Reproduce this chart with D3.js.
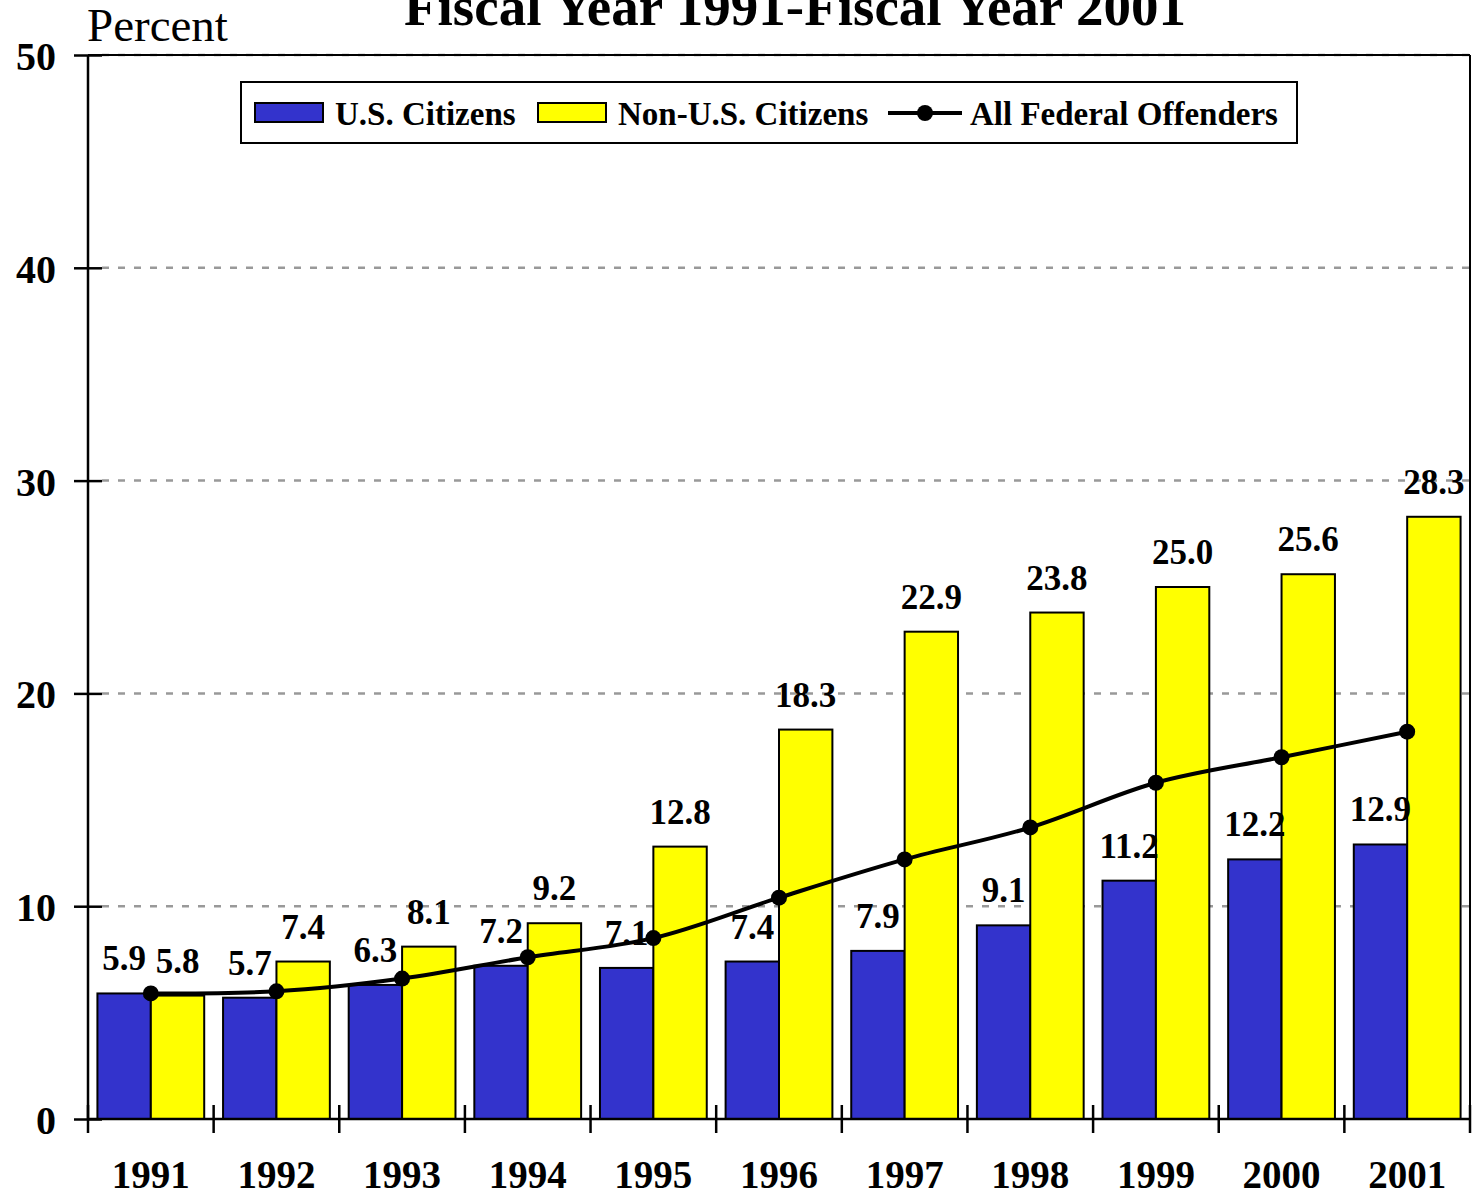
<!DOCTYPE html>
<html><head><meta charset="utf-8">
<script src="https://cdn.jsdelivr.net/npm/d3@7"></script>
<style>body{margin:0;background:#fff}svg{display:block}</style>
</head><body>
<svg id="c" width="1473" height="1197"></svg>
<script>
const years = ["1991","1992","1993","1994","1995","1996","1997","1998","1999","2000","2001"];
const usCitizens = [5.9,5.7,6.3,7.2,7.1,7.4,7.9,9.1,11.2,12.2,12.9];
const nonUsCitizens = [5.8,7.4,8.1,9.2,12.8,18.3,22.9,23.8,25.0,25.6,28.3];
const allOffenders = [5.9,6.0,6.6,7.6,8.5,10.4,12.2,13.7,15.8,17.0,18.2];
const yTicks = [0,10,20,30,40,50];
const seriesNames = ["U.S. Citizens","Non-U.S. Citizens","All Federal Offenders"];
const titleText = "Fiscal Year 1991-Fiscal Year 2001";

const FONT = "'Liberation Serif','Times New Roman',serif";
const BLUE = "#3333CC", YELLOW = "#FFFF00";
const svg = d3.select("#c");
const L = 88, R = 1470, T = 55, B = 1119;

const x = d3.scaleBand().domain(years).range([L, R]).paddingInner(0.15).paddingOuter(0.075);
const y = d3.scaleLinear().domain([0, 50]).range([B, T]);
const step = x.step();
const half = x.bandwidth() / 2;

// gridlines
svg.append("g").selectAll("line").data(yTicks.filter(d => d > 0)).join("line")
  .attr("x1", L + 14).attr("x2", R).attr("y1", d => y(d)).attr("y2", d => y(d))
  .attr("stroke", "#999").attr("stroke-width", 2.5).attr("stroke-dasharray", "7,9");

// frame top and right
svg.append("line").attr("x1", L).attr("x2", R).attr("y1", T).attr("y2", T).attr("stroke", "#000").attr("stroke-width", 2);
svg.append("line").attr("x1", R).attr("x2", R).attr("y1", T).attr("y2", B).attr("stroke", "#000").attr("stroke-width", 2);

// bars
const g = svg.append("g");
g.selectAll("rect.us").data(years).join("rect").attr("class", "us")
  .attr("x", d => x(d)).attr("width", half)
  .attr("y", (d, i) => y(usCitizens[i])).attr("height", (d, i) => B - y(usCitizens[i]))
  .attr("fill", BLUE).attr("stroke", "#000").attr("stroke-width", 2);
g.selectAll("rect.non").data(years).join("rect").attr("class", "non")
  .attr("x", d => x(d) + half).attr("width", half)
  .attr("y", (d, i) => y(nonUsCitizens[i])).attr("height", (d, i) => B - y(nonUsCitizens[i]))
  .attr("fill", YELLOW).attr("stroke", "#000").attr("stroke-width", 2);

// value labels
const lab = svg.append("g").attr("font-family", FONT).attr("font-weight", "bold").attr("font-size", 35).attr("text-anchor", "middle").attr("fill", "#000");
lab.selectAll("text.us").data(years).join("text").attr("class", "us")
  .attr("x", d => x(d) + half / 2).attr("y", (d, i) => y(usCitizens[i]) - 23)
  .text((d, i) => usCitizens[i].toFixed(1));
lab.selectAll("text.non").data(years).join("text").attr("class", "non")
  .attr("x", d => x(d) + half * 1.5).attr("y", (d, i) => y(nonUsCitizens[i]) - 23)
  .text((d, i) => nonUsCitizens[i].toFixed(1));

// line
const line = d3.line().x((d, i) => x(years[i]) + half).y(d => y(d)).curve(d3.curveCatmullRom.alpha(0.5));
svg.append("path").datum(allOffenders).attr("d", line).attr("fill", "none").attr("stroke", "#000").attr("stroke-width", 4);
svg.append("g").selectAll("circle").data(allOffenders).join("circle")
  .attr("cx", (d, i) => x(years[i]) + half).attr("cy", d => y(d)).attr("r", 8).attr("fill", "#000");

// y axis
const ya = svg.append("g").attr("transform", `translate(${L},0)`)
  .call(d3.axisLeft(y).tickValues(yTicks).tickSize(14).tickPadding(18).tickFormat(d3.format("d")));
ya.select(".domain").attr("stroke", "#000").attr("stroke-width", 2.5).attr("d", `M0,${T}V${B}`);
ya.selectAll(".tick line").attr("stroke-width", 2.5).attr("x2", -14).attr("x1", 14);
ya.selectAll(".tick text").attr("font-family", FONT).attr("font-weight", "bold").attr("font-size", 40).attr("fill", "#000").attr("dy", "0.36em");

// x axis
const xa = svg.append("g").attr("transform", `translate(0,${B})`);
xa.append("line").attr("x1", L).attr("x2", R).attr("stroke", "#000").attr("stroke-width", 2.5);
xa.selectAll("line.tk").data(d3.range(years.length + 1)).join("line").attr("class", "tk")
  .attr("x1", i => L + i * step).attr("x2", i => L + i * step).attr("y1", -14).attr("y2", 14)
  .attr("stroke", "#000").attr("stroke-width", 2.5);
xa.selectAll("text").data(years).join("text")
  .attr("x", d => x(d) + half).attr("y", 69).attr("text-anchor", "middle")
  .attr("font-family", FONT).attr("font-weight", "bold").attr("font-size", 39).text(d => d);

// title & axis title
svg.append("text").attr("x", 795).attr("y", 25).attr("text-anchor", "middle")
  .attr("font-family", FONT).attr("font-weight", "bold").attr("font-size", 55).text(titleText);
svg.append("text").attr("x", 87).attr("y", 41)
  .attr("font-family", FONT).attr("font-size", 47).text("Percent");

// legend
const lg = svg.append("g");
lg.append("rect").attr("x", 241).attr("y", 82).attr("width", 1056).attr("height", 61).attr("fill", "#fff").attr("stroke", "#000").attr("stroke-width", 2);
const lf = s => s.attr("font-family", FONT).attr("font-weight", "bold").attr("font-size", 33).attr("fill", "#000");
lg.append("rect").attr("x", 255).attr("y", 103).attr("width", 68).attr("height", 19).attr("fill", BLUE).attr("stroke", "#000").attr("stroke-width", 2);
lg.append("text").attr("x", 335).attr("y", 125).text(seriesNames[0]).call(lf);
lg.append("rect").attr("x", 538).attr("y", 103).attr("width", 68).attr("height", 19).attr("fill", YELLOW).attr("stroke", "#000").attr("stroke-width", 2);
lg.append("text").attr("x", 618).attr("y", 125).text(seriesNames[1]).call(lf);
lg.append("line").attr("x1", 888).attr("x2", 962).attr("y1", 113).attr("y2", 113).attr("stroke", "#000").attr("stroke-width", 4);
lg.append("circle").attr("cx", 925).attr("cy", 113).attr("r", 8).attr("fill", "#000");
lg.append("text").attr("x", 970).attr("y", 125).text(seriesNames[2]).call(lf);
</script>
</body></html>
